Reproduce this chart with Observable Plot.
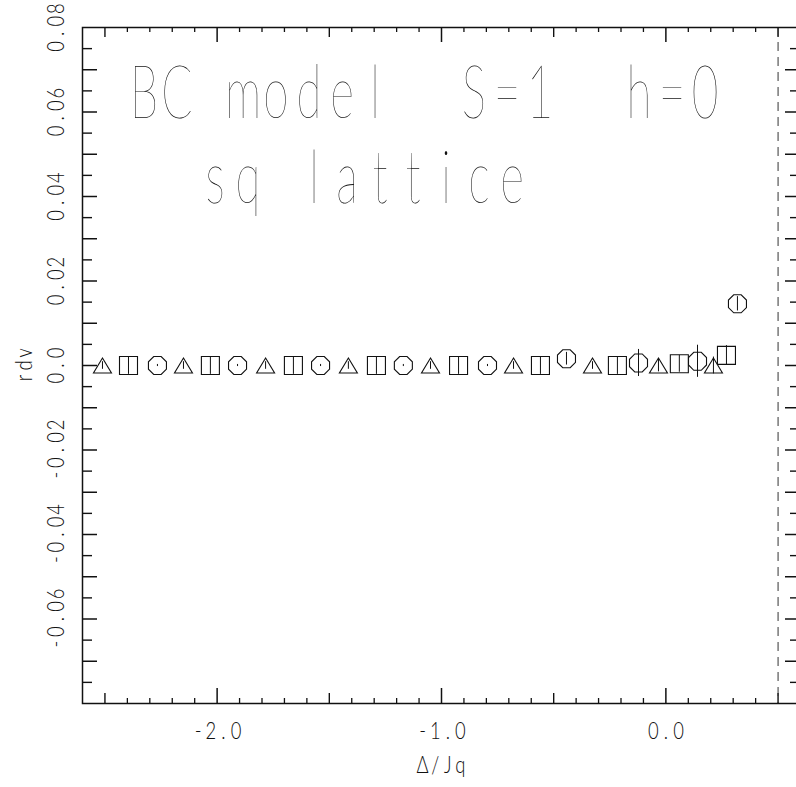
<!DOCTYPE html>
<html>
<head>
<meta charset="utf-8">
<script src="https://cdn.jsdelivr.net/npm/d3@7"></script>
<script src="https://cdn.jsdelivr.net/npm/@observablehq/plot@0.6"></script>
<style>
  body { margin: 0; background: #fff; }
  svg { display: block; }
  svg text { white-space: pre; }
</style>
</head>
<body>
<div id="chart"></div>
<script>
// ---- data ----
const triX   = [-2.511, -2.150, -1.784, -1.415, -1.049, -0.679, -0.327, -0.033, 0.212];
const triY   = [0, 0, 0, 0, 0, 0, 0, 0, 0];
const triErr = [0.0009, 0.0009, 0.0009, 0.0009, 0.0009, 0.0009, 0.0009, 0.0015, 0.002];

const sqX    = [-2.395, -2.030, -1.660, -1.290, -0.924, -0.559, -0.216, 0.060, 0.270];
const sqY    = [0, 0, 0, 0, 0, 0, 0, 0.0004, 0.0024];
const sqErr  = [0.0021, 0.0021, 0.0021, 0.0021, 0.0021, 0.0021, 0.0021, 0.002, 0.0023];

const octX   = [-2.266, -1.909, -1.539, -1.170, -0.795, -0.443, -0.122, 0.141, 0.319];
const octY   = [0, 0, 0, 0, 0, 0.0016, 0.0006, 0.001, 0.0146];
const octErr = [0.00025, 0.00025, 0.00025, 0.00025, 0.00025, 0.0015, 0.0032, 0.0038, 0.0017];

const dashedLineX = [0.5];

const xTickLabels = [-2.0, -1.0, 0.0];
const yTickLabels = [0.08, 0.06, 0.04, 0.02, 0.0, -0.02, -0.04, -0.06];
const xLabel = "Δ/Jq";
const yLabel = "rdv";
const titleLine1 = "BC model  S=1  h=0";
const titleLine2 = "sq lattice";

// ---- tick positions ----
const xTicks = d3.range(-25, 6).map(i => i / 10);
const xMajor = xTicks.filter(v => Math.abs(v - Math.round(v)) < 1e-9);
const xMid = xTicks.filter(v => !xMajor.includes(v) && Math.abs(v * 2 - Math.round(v * 2)) < 1e-9);
const xMinor = xTicks.filter(v => !xMajor.includes(v) && !xMid.includes(v));
const yTicks = d3.range(-15, 16).map(i => i / 200);
const yMajor = yTicks.filter(v => Math.abs(v * 100 - Math.round(v * 100)) < 1e-9);
const yMinor = yTicks.filter(v => !yMajor.includes(v));

const tri = triX.map((x, i) => ({x, y: triY[i], e: triErr[i]}));
const sq = sqX.map((x, i) => ({x, y: sqY[i], e: sqErr[i]}));
const oct = octX.map((x, i) => ({x, y: octY[i], e: octErr[i]}));

// ---- symbols ----
const symTriangle = {draw(ctx, size) {
  const r = Math.sqrt(size / Math.PI), h = r * 0.83;
  ctx.moveTo(0, -h); ctx.lineTo(r, h); ctx.lineTo(-r, h); ctx.closePath();
}};
const symSquare = {draw(ctx, size) {
  const r = Math.sqrt(size / Math.PI);
  ctx.moveTo(-r, -r); ctx.lineTo(r, -r); ctx.lineTo(r, r); ctx.lineTo(-r, r); ctx.closePath();
}};
const symOctagon = {draw(ctx, size) {
  const r = Math.sqrt(size / Math.PI), R = r / Math.cos(Math.PI / 8);
  for (let k = 0; k < 8; k++) {
    const a = Math.PI / 8 + k * Math.PI / 4;
    const px = R * Math.cos(a), py = R * Math.sin(a);
    if (k === 0) ctx.moveTo(px, py); else ctx.lineTo(px, py);
  }
  ctx.closePath();
}};

// ---- layout ----
const W = 796, H = 787, mL = 82, mR = -4, mT = 27, mB = 84;
const frameW = W - mL - mR, frameH = H - mT - mB;
const font = "Lato, 'DejaVu Sans', sans-serif";
const ink = "#111";

const tickMarks = (len, vals, sw) => [
  Plot.tickX(vals, {x: d => d, insetTop: frameH - len, stroke: ink, strokeWidth: sw}),
  Plot.tickX(vals, {x: d => d, insetBottom: frameH - len, stroke: ink, strokeWidth: sw})
];
const tickMarksY = (len, vals, sw) => [
  Plot.tickY(vals, {y: d => d, insetRight: frameW - len, stroke: ink, strokeWidth: sw}),
  Plot.tickY(vals, {y: d => d, insetLeft: frameW - len, stroke: ink, strokeWidth: sw})
];

const labelStyle = {fontSize: 23, fontFamily: font, fontWeight: 300, fill: ink};
const titleStyle = {fontSize: 74, fontFamily: font, fontWeight: 200, fill: ink,
  frameAnchor: "top-left", textAnchor: "start", lineAnchor: "bottom"};

const plot = Plot.plot({
  width: W, height: H,
  marginLeft: mL, marginRight: mR, marginTop: mT, marginBottom: mB,
  x: {domain: [-2.6, 0.6], axis: null},
  y: {domain: [-0.08, 0.08], axis: null},
  marks: [
    ...tickMarks(15, xMajor, 1.5),
    ...tickMarks(10, xMid, 1.4),
    ...tickMarks(5, xMinor, 1.3),
    ...tickMarksY(15, yMajor, 1.5),
    ...tickMarksY(10, yMinor, 1.4),
    Plot.ruleX(dashedLineX, {x: d => d, stroke: "#333", strokeWidth: 1, strokeDasharray: "9,6"}),
    Plot.frame({stroke: ink, strokeWidth: 1.5}),
    // error bars
    Plot.ruleX(tri, {x: "x", y1: d => d.y - d.e, y2: d => d.y + d.e, stroke: ink, strokeWidth: 1}),
    Plot.ruleX(sq, {x: "x", y1: d => d.y - d.e, y2: d => d.y + d.e, stroke: ink, strokeWidth: 1}),
    Plot.ruleX(oct, {x: "x", y1: d => d.y - d.e, y2: d => d.y + d.e, stroke: ink, strokeWidth: 1}),
    // markers
    Plot.dot(tri, {x: "x", y: "y", symbol: symTriangle, r: 9, stroke: ink, fill: "none", strokeWidth: 1.1}),
    Plot.dot(sq, {x: "x", y: "y", symbol: symSquare, r: 9, stroke: ink, fill: "none", strokeWidth: 1.1}),
    Plot.dot(oct, {x: "x", y: "y", symbol: symOctagon, r: 9, stroke: ink, fill: "none", strokeWidth: 1.1}),
    // tick labels
    Plot.text(xTickLabels, {x: d => d, text: d => d.toFixed(1), frameAnchor: "bottom", dy: 35, ...labelStyle}),
    Plot.text(yTickLabels, {y: d => d, text: d => (d === 0 ? "0.0" : d.toFixed(2)), frameAnchor: "left",
      dx: -26, rotate: -90, ...labelStyle}),
    // axis labels
    Plot.text([xLabel], {text: d => d, frameAnchor: "bottom", dy: 69, ...labelStyle}),
    Plot.text([yLabel], {text: d => d, frameAnchor: "left", dx: -58, rotate: -90, ...labelStyle}),
    // title
    Plot.text([titleLine1], {text: d => d, dx: 45, dy: 90, ...titleStyle}),
    Plot.text([titleLine2], {text: d => d, dx: 116, dy: 175, ...titleStyle})
  ]
});

// Lay the characters out on a fixed pitch, like the plotter lettering of the original.
const svgNS = "http://www.w3.org/2000/svg";
function monospace(el, pitch, sx, fromStart) {
  const s = el.textContent;
  const n = s.length;
  const start = fromStart ? 0 : -n * pitch / 2;
  el.textContent = "";
  el.setAttribute("text-anchor", "middle");
  for (let i = 0; i < n; i++) {
    const t = document.createElementNS(svgNS, "tspan");
    t.setAttribute("x", (start + (i + 0.5) * pitch) / sx);
    t.textContent = s[i];
    el.appendChild(t);
  }
  el.setAttribute("transform", (el.getAttribute("transform") || "") + ` scale(${sx},1)`);
}
d3.select(plot).selectAll("text").each(function () {
  const s = this.textContent;
  if (s === titleLine1 || s === titleLine2) monospace(this, 33, 0.62, true);
  else monospace(this, 12.6, 0.8, false);
});

document.getElementById("chart").append(plot);
</script>
</body>
</html>
